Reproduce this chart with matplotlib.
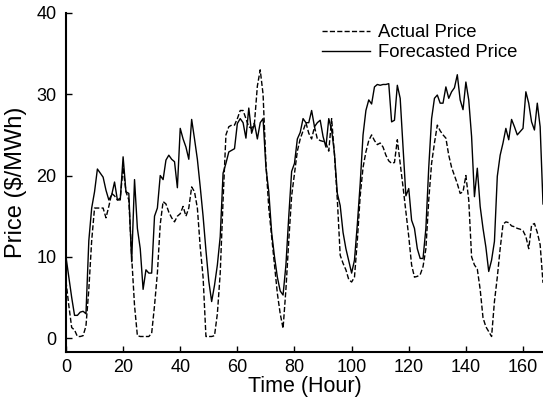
import numpy as np
from matplotlib import pyplot as plt

plt.rcParams["font.family"] = ["Liberation Sans", "DejaVu Sans"]

# hourly prices ($/MWh)
actual_price = [
    7.0, 4.0, 1.3, 1.0, 0.2, 0.2, 0.3, 1.5, 6.0, 12.0,
    16.0, 16.0, 16.0, 16.0, 14.8, 16.2, 17.8, 17.5, 17.0, 17.2,
    21.0, 18.0, 17.0, 10.0, 4.0, 0.3, 0.2, 0.2, 0.2, 0.2,
    0.6, 4.0, 8.0, 14.0, 16.8, 16.5, 15.5, 14.8, 14.3, 15.0,
    15.3, 16.2, 15.0, 16.0, 18.6, 18.0, 16.0, 11.2, 7.5, 0.2,
    0.2, 0.2, 0.3, 3.0, 8.0, 17.0, 25.0, 26.0, 26.2, 26.2,
    27.0, 28.0, 28.0, 27.0, 26.0, 25.8, 26.5, 31.0, 33.0, 30.0,
    21.5, 16.0, 12.5, 9.0, 5.5, 3.0, 1.2, 6.0, 12.0, 17.5,
    20.3, 23.0, 24.5, 25.5, 26.5, 25.2, 24.5, 26.0, 24.5, 24.3,
    24.2, 24.0, 23.0, 27.0, 22.5, 17.0, 10.2, 9.2, 8.4, 7.2,
    6.9, 7.5, 12.0, 17.5, 21.0, 22.9, 24.3, 25.0, 24.3, 23.8,
    24.0, 23.5, 22.5, 21.8, 21.5, 21.6, 24.4, 21.5, 18.6, 15.5,
    12.5, 9.0, 7.5, 7.6, 7.8, 8.8, 11.0, 17.0, 21.5, 24.0,
    26.2, 25.5, 25.0, 24.6, 22.5, 21.0, 20.0, 19.0, 17.8, 18.0,
    20.0, 17.0, 10.0, 9.0, 8.5, 6.0, 2.5, 1.4, 0.8, 0.2,
    4.5, 7.5, 11.0, 14.0, 14.3, 14.2, 13.8, 13.7, 13.5, 13.4,
    13.2, 12.5, 11.0, 13.9, 14.1, 13.0, 11.5, 6.8,
]
forecast_price = [
    10.0, 7.5, 5.0, 2.8, 2.8, 3.2, 3.3, 3.0, 12.0, 16.0,
    18.0, 20.8, 20.3, 19.8, 18.2, 17.0, 17.6, 19.2, 17.0, 17.0,
    22.3, 18.0, 17.8, 9.4, 19.5, 13.5, 11.0, 6.0, 8.4, 8.0,
    8.0, 15.0, 16.0, 20.0, 19.5, 21.9, 22.5, 22.0, 21.7, 18.5,
    25.8, 24.5, 23.5, 22.0, 26.9, 24.5, 22.0, 18.6, 15.0, 10.8,
    7.0, 4.5, 6.5, 9.0, 12.5, 20.3, 21.5, 22.9, 23.1, 23.3,
    26.4, 27.0, 26.5, 24.6, 28.3, 25.2, 26.4, 24.5, 26.5, 27.0,
    21.0, 18.0, 13.0, 10.0, 7.5, 5.8, 5.3, 9.0, 15.0, 20.5,
    21.5, 24.5, 25.3, 27.0, 26.5, 26.5, 28.0, 26.0, 26.5, 26.8,
    24.8, 23.5, 27.0, 25.6, 22.7, 17.8, 16.3, 13.0, 11.0, 9.5,
    8.0, 9.6, 14.0, 19.0, 25.0, 28.0, 29.3, 28.8, 30.9, 31.2,
    31.1, 31.2, 31.2, 31.3, 26.6, 26.8, 31.1, 29.5, 23.5, 17.5,
    18.4, 14.5, 13.5, 11.0, 9.8, 9.8, 13.5, 21.0, 27.0, 29.5,
    29.9, 28.9, 28.9, 30.9, 29.5, 30.3, 30.8, 32.4, 29.3, 28.1,
    31.5, 29.3, 24.8, 17.4, 20.9, 16.2, 13.5, 11.2, 8.2, 9.6,
    11.9, 19.9, 22.5, 24.0, 25.8, 24.4, 26.9, 26.0, 25.0, 25.4,
    25.8, 30.3, 28.9, 26.6, 25.6, 28.9, 26.0, 16.5,
]
hours = np.arange(len(actual_price))

fig = plt.figure(figsize=(5.43, 4.17), dpi=100)
ax = fig.add_axes([0.1215, 0.156, 0.8785, 0.813])

ax.plot(hours, actual_price, color="black", linestyle="--", linewidth=1.0, label="Actual Price")
ax.plot(hours, forecast_price, color="black", linestyle="-", linewidth=1.0, label="Forecasted Price")

ax.set_xlim(0, 167)
ax.set_ylim(-1.7, 40)
ax.set_xticks(np.arange(0, 161, 20))
ax.set_yticks(np.arange(0, 41, 10))
ax.tick_params(direction="in", length=4, width=1, labelsize=13)
ax.tick_params(axis="y", pad=7)
ax.tick_params(axis="x", pad=5)
for side in ("top", "right"):
    ax.spines[side].set_visible(False)
for side in ("left", "bottom"):
    ax.spines[side].set_linewidth(1.5)

ax.set_xlabel("Time (Hour)", fontsize=15.5)
ax.set_ylabel("Price ($/MWh)", fontsize=17)
ax.xaxis.set_label_coords(0.5, -0.07)
ax.yaxis.set_label_coords(-0.081, 0.5)
ax.legend(loc="upper left", bbox_to_anchor=(0.537, 0.966), frameon=False, fontsize=13.3,
          handlelength=2.6, handletextpad=0.45, borderpad=0, borderaxespad=0,
          labelspacing=0.15)

plt.savefig("out.png", dpi=100)
